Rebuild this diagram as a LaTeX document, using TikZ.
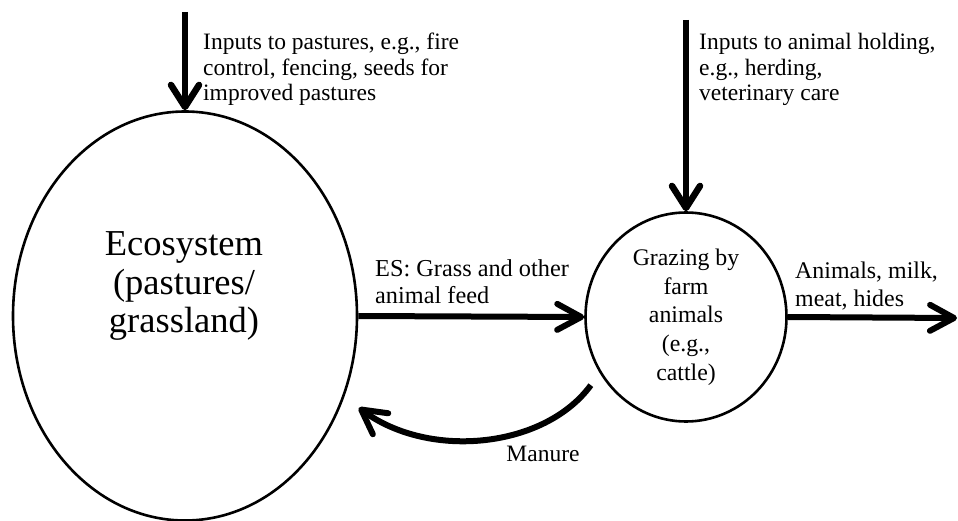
\documentclass[tikz,border=0pt]{standalone}
\usepackage{fontspec}
\setmainfont{Liberation Serif}
\usetikzlibrary{arrows.meta,shapes.geometric}

\tikzset{
  flow/.style={line width=6pt, -{Straight Barb[length=24pt,width=26pt,round]}},
  input/.style={line width=6.5pt, -{Straight Barb[length=22pt,width=28pt,round]}},
  note/.style={align=left, inner sep=0pt, font=\fontsize{23.5}{25.5}\selectfont},
  pool/.style={draw, ellipse, line width=2.6pt},
}

\begin{document}
\begin{tikzpicture}[x=1pt,y=-1pt]
  \useasboundingbox (0,0) rectangle (958,521);
  % the two pools
  \node[pool, minimum width=344pt, minimum height=409pt] (eco) at (185,316) {};
  \node[align=center, inner sep=0pt, font=\fontsize{36.5}{38.5}\selectfont] (ecotext) at (184,286) {Ecosystem\\(pastures/\\grassland)};
  \node[pool, minimum width=201pt, minimum height=209pt, align=center, inner sep=0pt,
        font=\fontsize{23.8}{28.7}\selectfont] (graz) at (686,317) {Grazing by\\farm\\animals\\(e.g.,\\cattle)};

  % inputs from above
  \coordinate (feedA) at (185,12);
  \draw[input] (feedA) -- (eco.north);
  \node[note, anchor=north west] (pastin) at (203,33) {Inputs to pastures, e.g., fire\\control, fencing, seeds for\\improved pastures};
  \coordinate (feedB) at (686,20);
  \draw[input] (feedB) -- (graz.north);
  \node[note, anchor=north west] (herdin) at (699,33) {Inputs to animal holding,\\e.g., herding,\\veterinary care};

  % flows
  \draw[flow] (eco.east) -- (graz.west);
  \node[note, anchor=north west, font=\fontsize{24.3}{27}\selectfont] (estext) at (375,259) {ES: Grass and other\\animal feed};
  \coordinate (market) at (957,318);
  \draw[flow] (graz.east) -- (market);
  \node[note, anchor=north west, font=\fontsize{23.9}{28}\selectfont] (prodtext) at (795,262) {Animals, milk,\\meat, hides};
  \draw[flow, shorten <=15pt, shorten >=18pt] (graz.213) .. controls (545,448) and (430,460) .. (eco.-27);
  \node[note, anchor=base] (mantext) at (543,461) {Manure};
\end{tikzpicture}
\end{document}
